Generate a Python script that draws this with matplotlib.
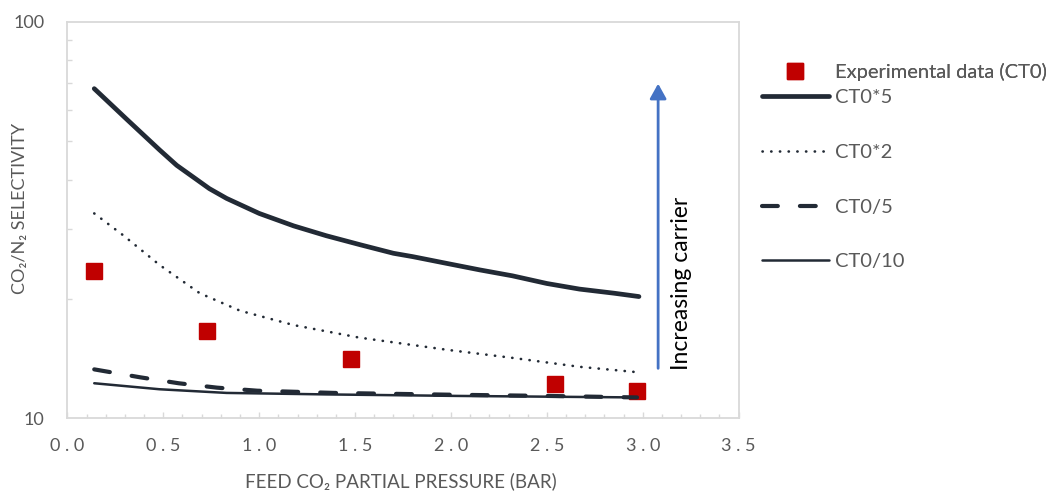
import matplotlib
matplotlib.use("Agg")
import matplotlib.pyplot as plt
from matplotlib.ticker import FixedLocator, MultipleLocator, NullFormatter

plt.rcParams['font.family'] = ['Lato', 'DejaVu Sans']

# experimental data (CT0)
exp_x = [0.14, 0.73, 1.48, 2.54, 2.97]
exp_y = [23.5, 16.6, 14.1, 12.2, 11.75]

# model curves
ct_x5_x = [0.14, 0.31, 0.48, 0.57, 0.66, 0.74, 0.83, 1.00, 1.18, 1.35, 1.53, 1.70,
           1.80, 1.98, 2.15, 2.32, 2.50, 2.67, 2.85, 2.98]
ct_x5_y = [67.9, 56.8, 47.6, 43.5, 40.5, 38.0, 35.9, 32.9, 30.6, 28.9, 27.4, 26.1,
           25.6, 24.6, 23.7, 22.9, 21.9, 21.2, 20.7, 20.3]

ct_x2_x = [0.14, 0.29, 0.48, 0.69, 0.90, 1.18, 1.52, 1.98, 2.33, 2.67, 2.96]
ct_x2_y = [32.9, 29.0, 24.4, 20.7, 18.7, 17.2, 16.0, 14.9, 14.2, 13.5, 13.1]

ct_d5_x = [0.14, 0.38, 0.58, 0.78, 0.99, 1.39, 2.00, 2.50, 2.97]
ct_d5_y = [13.3, 12.7, 12.27, 11.96, 11.75, 11.6, 11.48, 11.4, 11.3]

ct_d10_x = [0.14, 0.48, 0.83, 1.35, 2.03, 2.50, 2.97]
ct_d10_y = [12.27, 11.85, 11.6, 11.5, 11.4, 11.35, 11.3]

x_ticks = [0.0, 0.5, 1.0, 1.5, 2.0, 2.5, 3.0, 3.5]
y_ticks = [10, 100]

dark = '#222a35'
grey = '#595959'
frame = '#d9d9d9'

fig = plt.figure(figsize=(10.53, 4.91), dpi=100)
ax = fig.add_axes([0.064, 0.1477, 0.6375, 0.8075])

pts, = ax.plot(exp_x, exp_y, linestyle='none', marker='s', markersize=11.5,
               color='#c00000', label='Experimental data (CT0)', zorder=2)
l1, = ax.plot(ct_x5_x, ct_x5_y, color=dark, lw=3.4, solid_capstyle='round',
              solid_joinstyle='round', label='CT0*5', zorder=3)
l2, = ax.plot(ct_x2_x, ct_x2_y, color=dark, lw=1.9, dashes=(0.1, 3.2),
              dash_capstyle='round', label='CT0*2', zorder=3)
l3, = ax.plot(ct_d5_x, ct_d5_y, color=dark, lw=3.0, dashes=(3.8, 5.3),
              dash_capstyle='round', label='CT0/5', zorder=3)
l4, = ax.plot(ct_d10_x, ct_d10_y, color=dark, lw=1.8, solid_capstyle='round',
              label='CT0/10', zorder=3)

ax.set_yscale('log')
ax.set_ylim(10, 100)
ax.set_xlim(0, 3.5)

ax.yaxis.set_major_locator(FixedLocator(y_ticks))
ax.set_yticklabels([str(v) for v in y_ticks])
ax.yaxis.set_minor_locator(FixedLocator(range(20, 100, 10)))
ax.yaxis.set_minor_formatter(NullFormatter())
ax.xaxis.set_major_locator(FixedLocator(x_ticks))
ax.set_xticklabels([' '.join(f'{v:.1f}') for v in x_ticks])
ax.xaxis.set_minor_locator(MultipleLocator(0.1))

ax.tick_params(axis='y', which='major', length=0, pad=16.5, labelsize=13, labelcolor=grey)
ax.tick_params(axis='y', which='minor', direction='in', length=3.6, width=1, color=frame)
ax.tick_params(axis='x', which='major', direction='in', length=4.3, width=1, color=frame,
               pad=14, labelsize=13, labelcolor=grey)
ax.tick_params(axis='x', which='minor', direction='in', length=2.9, width=1, color=frame)

for s in ax.spines.values():
    s.set_color(frame)
    s.set_linewidth(1.3)

# arrow + note
ax.annotate('', xy=(3.08, 69.9), xytext=(3.08, 13.38),
            arrowprops=dict(arrowstyle='-|>,head_length=0.45,head_width=0.25',
                            color='#4472c4', lw=2, mutation_scale=20,
                            shrinkA=0, shrinkB=0))
ax.text(3.203, 21.9, 'Increasing carrier', rotation=90, ha='center', va='center',
        fontsize=16.5, color='black')

fig.text(20 / 1053, 1 - 208 / 491, 'CO\u2082/N\u2082 SELECTIVITY', rotation=90,
         ha='center', va='center', fontsize=13, color=grey)
fig.text(401 / 1053, 1 - 481 / 491, 'FEED CO\u2082 PARTIAL PRESSURE (BAR)',
         ha='center', va='center', fontsize=13.5, color=grey)

leg_kw = dict(loc='upper left', frameon=False, fontsize=14.5, handlelength=3.33,
              handletextpad=0.33, labelspacing=1.87, borderpad=0, borderaxespad=0,
              labelcolor=grey, numpoints=1)
leg1 = fig.legend(handles=[pts], bbox_to_anchor=(761.7 / 1053, 1 - 63 / 491), **leg_kw)
fig.add_artist(leg1)
fig.legend(handles=[l1, l2, l3, l4], bbox_to_anchor=(761.7 / 1053, 1 - 89 / 491), **leg_kw)

fig.savefig('out.png', dpi=100)
